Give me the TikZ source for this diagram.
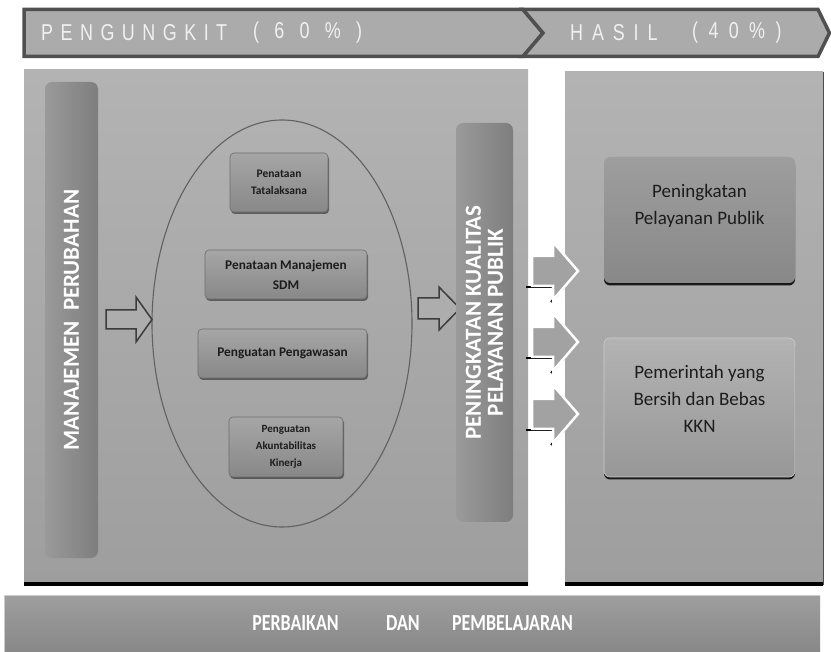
\documentclass[tikz,border=0pt]{standalone}
\usepackage{fontspec}
\usepackage{graphicx}
\setmainfont{Carlito}
\newfontfamily\arialfont{Liberation Sans}
\usetikzlibrary{shapes.geometric,shadows,calc}

\definecolor{panelTop}{HTML}{B3B3B3}
\definecolor{panelBot}{HTML}{9E9E9E}
\definecolor{barL}{HTML}{9A9A9A}
\definecolor{barR}{HTML}{7E7E7E}
\definecolor{boxTop}{HTML}{A6A6A6}
\definecolor{boxBot}{HTML}{888888}
\definecolor{boxEdge}{HTML}{6E6E6E}
\definecolor{inkDark}{HTML}{1C1C1C}
\definecolor{topFill}{HTML}{ABABAB}
\definecolor{topEdge}{HTML}{505050}
\definecolor{arrowFill}{HTML}{A2A2A2}
\definecolor{arrowEdge}{HTML}{3C3C3C}

% letter-spaced text: \trk{gap}{letters}
\newcommand\trk[2]{\def\trkamt{#1}\trkloop#2\relax}
\def\trkloop#1{\ifx#1\relax\else#1\hspace{\trkamt}\expandafter\trkloop\fi}

% block arrow: style, shaft start, head start, tip, centre y, half shaft, half head
\newcommand\blockarrow[7]{\draw[#1] (#2,{#5-#6}) -- (#3,{#5-#6}) -- (#3,{#5-#7}) -- (#4,#5)
  -- (#3,{#5+#7}) -- (#3,{#5+#6}) -- (#2,{#5+#6}) -- cycle;}

\begin{document}
\begin{tikzpicture}[x=1pt,y=-1pt,
  panel/.style={rectangle, inner sep=0, draw=none, top color=panelTop, bottom color=panelBot},
  vbar/.style={rectangle, rounded corners=7pt, inner sep=0, draw=none,
    left color=barL, right color=barR},
  vtext/.style={rotate=90, text=white, align=center, inner sep=0,
    font=\bfseries\fontsize{23}{22}\selectfont},
  sbox/.style={rectangle, rounded corners=4pt, draw=boxEdge, line width=0.6,
    top color=boxTop, bottom color=boxBot, inner sep=2, align=center, text=inkDark,
    drop shadow={shadow xshift=1pt, shadow yshift=-2pt, opacity=0.45, fill=black}},
  rbox/.style={rectangle, rounded corners=6pt, inner sep=0, draw=none,
    drop shadow={shadow xshift=0pt, shadow yshift=-2.5pt, opacity=0.85, fill=black}},
  rtext/.style={align=center, text=inkDark, inner sep=0,
    font=\fontsize{19}{27}\selectfont},
  topbar/.style={fill=topFill, draw=topEdge, line width=3.5, line join=miter},
  toptext/.style={anchor=west, inner sep=0, text=white!94!black,
    font=\arialfont\fontsize{23}{23}\selectfont},
  hollow/.style={fill=panelTop!70!panelBot, draw=arrowEdge, line width=1.5, line join=miter},
  warrow/.style={fill=arrowFill, draw=white, line width=2.5, line join=miter},
  wshadow/.style={draw=black, line width=2},
  btext/.style={text=white, inner sep=0, font=\bfseries\fontsize{23}{23}\selectfont}]

\useasboundingbox (0,0) rectangle (831,652);
\fill[white] (0,0) rectangle (831,652);

% ---- chevron header ----
\draw[topbar] (24,9.5) -- (523,9.5) -- (543,33) -- (523,56.5) -- (24,56.5) -- cycle;
\draw[topbar] (523,9.5) -- (818,9.5) -- (829.5,33) -- (818,56.5) -- (523,56.5) -- (543,33) -- cycle;
\node[toptext] (hPeng) at (41,33) {\scalebox{0.78}[1]{\trk{9.6pt}{PENGUNGKIT}}};
\node[toptext] (hPengPct) at (253,33) {\scalebox{0.78}[1]{\trk{19.6pt}{(60\%)}}};
\node[toptext] (hHasil) at (570,33) {\scalebox{0.78}[1]{\trk{11.4pt}{HASIL}}};
\node[toptext] (hHasilPct) at (692,33) {\scalebox{0.78}[1]{\trk{13.3pt}{(40\%)}}};

% ---- panels ----
\node[panel, minimum width=504, minimum height=515] (lp) at (276,327.5) {};
\node[panel, minimum width=258, minimum height=513] (rp) at (694,328.5) {};
\draw[black, line width=4] ([yshift=1.5pt]lp.south west) -- ([yshift=1.5pt]lp.south east);
\draw[black, line width=4] ([yshift=1.5pt]rp.south west) -- ([yshift=1.5pt]rp.south east);
\draw[black!70, line width=1.2] (rp.north east) -- (rp.south east);

% ---- left column ----
\node[vbar, minimum width=53, minimum height=476] (mp) at (71.5,320) {};
\node[vtext] (mpText) at (mp.center) {MANAJEMEN\ \ PERUBAHAN};

\node[ellipse, draw=black!62, line width=1.1, minimum width=260, minimum height=407, inner sep=0] (ell) at (282,323.5) {};

\node[sbox, minimum width=98, minimum height=59, font=\bfseries\fontsize{11.5}{17}\selectfont] (t1) at (279,182.5) {Penataan\\Tatalaksana};
\node[sbox, minimum width=162, minimum height=49, font=\bfseries\fontsize{13.3}{20}\selectfont] (t2) at (286,274.5) {Penataan Manajemen\\SDM};
\node[sbox, minimum width=169, minimum height=49, font=\bfseries\fontsize{13.3}{20}\selectfont] (t3) at (282.5,353.5) {Penguatan Pengawasan};
\node[sbox, minimum width=114, minimum height=60, font=\bfseries\fontsize{11}{17}\selectfont] (t4) at (286,447) {Penguatan\\Akuntabilitas\\Kinerja};

\blockarrow{hollow}{106}{136}{152}{319.5}{9.5}{22.5}
\blockarrow{hollow}{418}{439}{460}{308.5}{10.5}{21.5}

\node[vbar, minimum width=57, minimum height=399] (pk) at (484.5,322.5) {};
\node[vtext] (pkText) at (pk.center) {PENINGKATAN KUALITAS\\PELAYANAN PUBLIK};

% ---- arrows into the outcome panel ----
\foreach \yc in {271,342,414}{
  \draw[wshadow] (526,{\yc+16.5}) -- (552,{\yc+16.5});
  \draw[wshadow] (551,{\yc+31}) -- (565,{\yc+15});
  \blockarrow{warrow}{532}{553}{578}{\yc}{15}{29}
}

% ---- outcome boxes ----
\node[rbox, top color=boxTop!95!black, bottom color=boxBot, minimum width=191, minimum height=126] (r1) at (699.5,220) {};
\node[rtext] (r1Text) at ([yshift=14pt]r1.center) {Peningkatan\\Pelayanan Publik};
\node[rbox, top color=panelTop, bottom color=panelBot!96!black, draw=white!80!black, line width=0.6, minimum width=191, minimum height=139] (r2) at (699.5,407.5) {};
\node[rtext] (r2Text) at ([yshift=9pt]r2.center) {Pemerintah yang\\Bersih dan Bebas\\KKN};

% ---- footer bar ----
\node[rectangle, inner sep=0, top color=panelBot, bottom color=boxBot, minimum width=815, minimum height=57] (bb) at (412.5,624) {};
\draw[white!80!black, line width=1] (bb.south west) -- (bb.north west) -- (bb.north east);
\node[btext] (bPerbaikan) at (295.5,623) {\scalebox{0.78}[1]{PERBAIKAN}};
\node[btext] (bDan) at (403,623) {\scalebox{0.78}[1]{DAN}};
\node[btext] (bPembelajaran) at (512.5,623) {\scalebox{0.78}[1]{PEMBELAJARAN}};
\end{tikzpicture}
\end{document}
